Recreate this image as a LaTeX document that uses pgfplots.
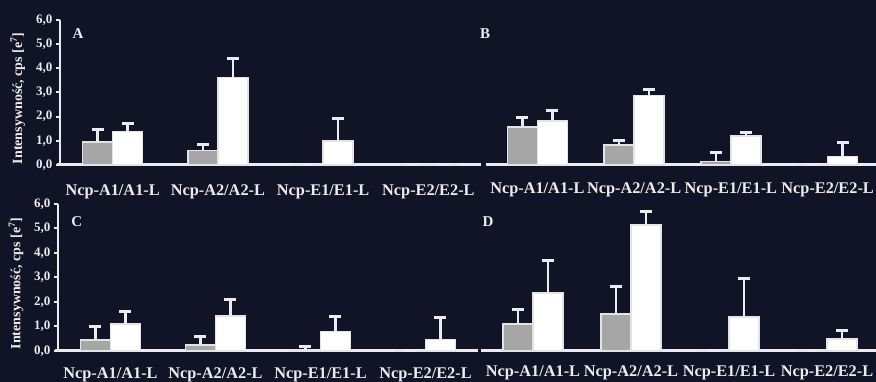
\documentclass[border=0pt]{standalone}
\usepackage{fontspec}
\setmainfont{Liberation Serif}
\usepackage{pgfplots}
\pgfplotsset{compat=1.18}
\definecolor{bg}{RGB}{17,20,38}
\definecolor{fg}{RGB}{236,236,236}
\definecolor{barg}{RGB}{166,166,166}
\definecolor{edge}{RGB}{228,228,228}

\pgfplotsset{
  panel/.style={
    scale only axis, clip=false,
    ybar=0pt, bar width=30pt,
    ymin=0, ymax=6,
    xmin=-0.5, xmax=3.5,
    xtick={0,1,2,3},
    xticklabels={Ncp-A1/A1-L,Ncp-A2/A2-L,Ncp-E1/E1-L,Ncp-E2/E2-L},
    x tick label style={font=\bfseries\fontsize{16.3}{17}\selectfont, text=fg, yshift=-12pt},
    major x tick style={draw=none},
    axis x line=bottom,
    x axis line style={draw=fg, line width=3pt, -, shorten <=-3pt},
    error bars/y dir=plus, error bars/y explicit,
    error bars/error mark=|,
    error bars/error bar style={draw=fg, line width=2.5pt},
    error bars/error mark options={draw=fg, line width=3pt, mark size=6pt},
  },
  lowrow/.style={x tick label style={yshift=2.5pt}},
  leftax/.style={
    axis y line=left,
    y axis line style={draw=fg, line width=2.5pt, -},
    ytick={0,1,...,6},
    tick align=outside, major tick length=4pt,
    major y tick style={draw=fg, line width=2pt},
    y tick label style={font=\bfseries\fontsize{13}{13}\selectfont, text=fg,
      /pgf/number format/.cd, fixed, fixed zerofill, precision=1, use comma, assume math mode=true},
    ylabel={Intensywność, cps [e\textsuperscript{7}]},
    every axis y label/.style={at={(axis description cs:-0.1,0.46)}, rotate=90, anchor=center,
      font=\bfseries\fontsize{14}{14}\selectfont, text=fg},
  },
  rightax/.style={axis y line=none},
  gbar/.style={fill=barg, draw=edge, line width=1.5pt},
  wbar/.style={fill=white, draw=edge, line width=1.5pt},
}

\begin{document}
\begin{tikzpicture}
\useasboundingbox (0,0) rectangle (876pt,382pt);
\clip (0,0) rectangle (876pt,382pt);
\fill[bg] (0,0) rectangle (876pt,382pt);

% Panel A
\begin{axis}[panel, leftax, at={(60pt,217pt)}, anchor=south west, width=421pt, height=145pt]
\addplot[gbar] coordinates {(0,0.95) +- (0,0.5) (1,0.6) +- (0,0.23) (2,0.03) +- (0,0) (3,0.03) +- (0,0)};
\addplot[wbar] coordinates {(0,1.38) +- (0,0.32) (1,3.62) +- (0,0.78) (2,1.0) +- (0,0.93) (3,0.03) +- (0,0)};
\node[font=\bfseries\fontsize{15}{15}\selectfont, text=fg] at (axis description cs:0.043,0.905) {A};
\end{axis}

% Panel B
\begin{axis}[panel, rightax, at={(489pt,217pt)}, anchor=south west, width=387pt, height=145pt]
\addplot[gbar] coordinates {(0,1.57) +- (0,0.41) (1,0.83) +- (0,0.17) (2,0.15) +- (0,0.35) (3,0.03) +- (0,0)};
\addplot[wbar] coordinates {(0,1.82) +- (0,0.45) (1,2.88) +- (0,0.25) (2,1.2) +- (0,0.15) (3,0.35) +- (0,0.58)};
\node[font=\bfseries\fontsize{15}{15}\selectfont, text=fg] at (axis description cs:-0.01,0.905) {B};
\end{axis}

% Panel C
\begin{axis}[panel, leftax, lowrow, at={(58pt,31pt)}, anchor=south west, width=420pt, height=147pt]
\addplot[gbar] coordinates {(0,0.45) +- (0,0.55) (1,0.25) +- (0,0.35) (2,0.03) +- (0,0.17) (3,0.03) +- (0,0)};
\addplot[wbar] coordinates {(0,1.1) +- (0,0.5) (1,1.43) +- (0,0.67) (2,0.8) +- (0,0.6) (3,0.47) +- (0,0.9)};
\node[font=\bfseries\fontsize{15}{15}\selectfont, text=fg] at (axis description cs:0.045,0.88) {C};
\end{axis}

% Panel D
\begin{axis}[panel, rightax, lowrow, at={(484pt,31pt)}, anchor=south west, width=392pt, height=147pt]
\addplot[gbar] coordinates {(0,1.1) +- (0,0.6) (1,1.5) +- (0,1.15) (2,0.03) +- (0,0) (3,0.03) +- (0,0)};
\addplot[wbar] coordinates {(0,2.37) +- (0,1.33) (1,5.15) +- (0,0.55) (2,1.39) +- (0,1.58) (3,0.48) +- (0,0.37)};
\node[font=\bfseries\fontsize{15}{15}\selectfont, text=fg] at (axis description cs:0.01,0.88) {D};
\end{axis}
\end{tikzpicture}
\end{document}
